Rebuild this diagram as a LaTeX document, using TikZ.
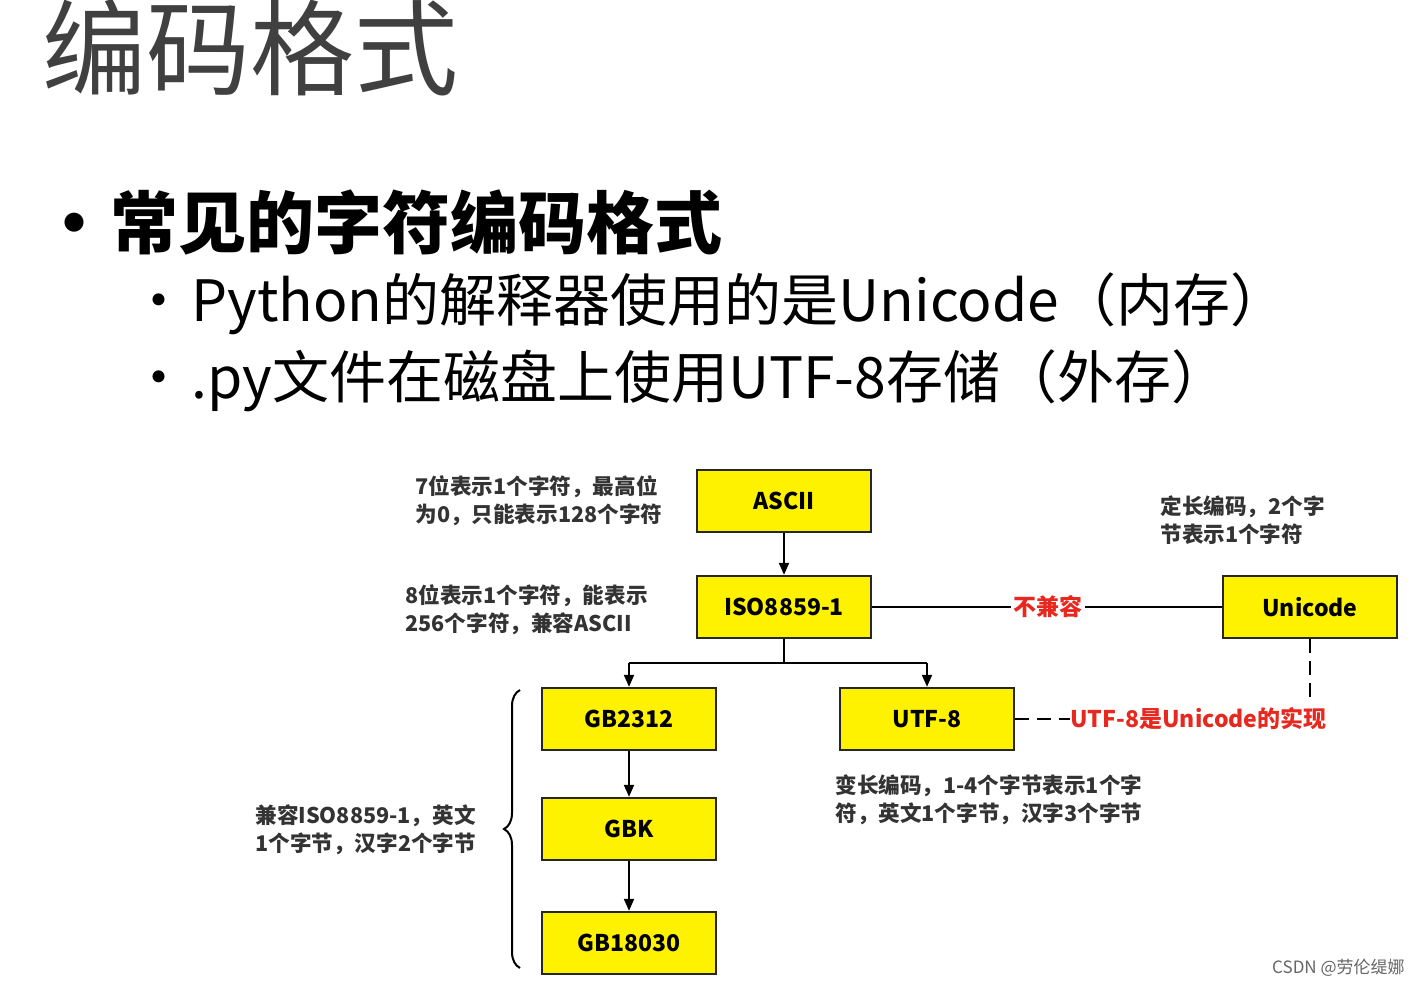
\documentclass[tikz,border=0pt]{standalone}
\usepackage{fontspec}
\setmainfont{Noto Sans CJK SC}
\usetikzlibrary{decorations.pathreplacing,arrows.meta}
\definecolor{boxy}{HTML}{FFF200}
\definecolor{redt}{HTML}{E8281E}
\tikzset{
  cbox/.style={draw=black!85,line width=1.2pt,fill=boxy,minimum width=87pt,minimum height=31pt,inner sep=0pt,font=\fontsize{11.5}{13}\selectfont\bfseries},
  note/.style={font=\fontsize{10.8}{14}\selectfont\bfseries,text=black!80,align=left,inner sep=0pt},
  arr/.style={line width=1pt,-{Triangle[length=6pt,width=5pt]}},
  ln/.style={line width=1pt}
}
\begin{document}
\begin{tikzpicture}[x=0.5pt,y=-0.5pt]
\useasboundingbox (0,0) rectangle (1419,986);
\fill[white] (0,0) rectangle (1419,986);
\node[anchor=west,font=\fontsize{52}{56}\selectfont,text=black!75,inner sep=0pt] (title) at (42,48) {编码格式};
\node[anchor=west,font=\fontsize{34}{38}\selectfont\bfseries,inner sep=0pt] (h1) at (40,222) {•\hspace{1pt}常见的字符编码格式};
\node[anchor=west,font=\fontsize{28.5}{32}\selectfont,inner sep=0pt] (b1) at (130,304) {•\hspace{2pt}Python的解释器使用的是Unicode（内存）};
\node[anchor=west,font=\fontsize{28.5}{32}\selectfont,inner sep=0pt] (b2) at (130,381) {•\hspace{2pt}.py文件在磁盘上使用UTF-8存储（外存）};

\node[cbox] (ascii) at (784,501) {ASCII};
\node[cbox] (iso) at (784,607) {ISO8859-1};
\node[cbox] (uni) at (1310,607) {Unicode};
\node[cbox] (gb2312) at (629,719) {GB2312};
\node[cbox] (utf) at (927,719) {UTF-8};
\node[cbox] (gbk) at (629,829) {GBK};
\node[cbox] (gb18) at (629,943) {GB18030};

\draw[arr] (ascii) -- (iso);
\node[font=\fontsize{11.5}{13}\selectfont\bfseries,text=redt,fill=white,inner sep=1pt] (bj) at (1048,607) {不兼容};
\draw[ln] (iso) -- (bj) -- (uni);
\coordinate (j) at (784,663);
\draw[ln] (iso.south) -- (j);
\draw[ln] (629,663) -- (927,663);
\draw[arr] (629,663) -- (gb2312.north);
\draw[arr] (927,663) -- (utf.north);
\draw[arr] (gb2312) -- (gbk);
\draw[arr] (gbk) -- (gb18);
\node[anchor=west,font=\fontsize{11.5}{13}\selectfont\bfseries,text=redt,inner sep=0pt] (impl) at (1070,719) {UTF-8是Unicode的实现};
\draw[ln,dashed,dash pattern=on 7pt off 4pt] (utf.east) -- (impl.west);
\draw[ln,dashed,dash pattern=on 7pt off 4pt] (uni.south) -- (1310,697);
\draw[ln,decorate,decoration={brace,amplitude=8pt}] (520,968) -- (520,690);

\node[note,anchor=west] (n1) at (415,501) {7位表示1个字符，最高位\\为0，只能表示128个字符};
\node[note,anchor=west] (n2) at (405,610) {8位表示1个字符，能表示\\256个字符，兼容ASCII};
\node[note,anchor=west] (n3) at (1160,520) {定长编码，2个字\\节表示1个字符};
\node[note,anchor=west] (n4) at (835,800) {变长编码，1-4个字节表示1个字\\符，英文1个字节，汉字3个字节};
\node[note,anchor=west] (n5) at (255,830) {兼容ISO8859-1，英文\\1个字节，汉字2个字节};
\node[anchor=east,font=\fontsize{8.5}{10}\selectfont,text=black!60,inner sep=0pt] (wm) at (1405,968) {CSDN @劳伦缇娜};
\end{tikzpicture}
\end{document}
